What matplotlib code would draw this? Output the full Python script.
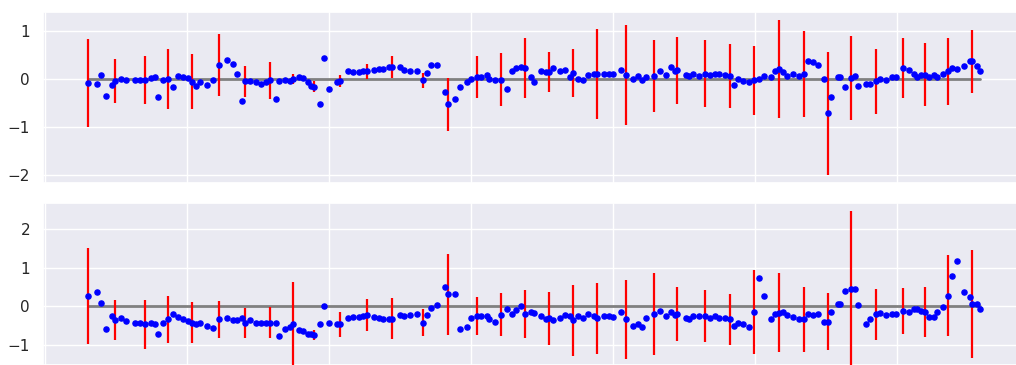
import numpy as np
import matplotlib
matplotlib.use("Agg")
import matplotlib.pyplot as plt
from matplotlib.ticker import MultipleLocator
import seaborn as sns

# Sample positions (shared by both series)
x = [
    15.1, 18.3, 19.8, 21.4, 23.6, 24.7, 26.6, 28.6, 31.6, 33.3,
    35.1, 37.2, 38.8, 39.8, 41.4, 43.3, 44.9, 46.7, 48.7, 50.3,
    51.7, 53.2, 54.4, 57.1, 59.0, 61.3, 64.0, 66.0, 67.5, 69.4,
    70.4, 72.1, 74.1, 76.0, 77.8, 79.2, 81.3, 82.4, 84.4, 86.2,
    87.4, 89.5, 90.7, 92.5, 93.6, 94.7, 96.8, 98.3, 99.8, 102.6,
    103.8, 106.6, 108.5, 110.4, 112.0, 113.2, 115.8, 117.6, 119.1, 120.9,
    122.1, 124.8, 126.4, 128.5, 130.9, 132.9, 134.4, 135.9, 137.9, 140.6,
    141.8, 144.4, 146.0, 148.4, 149.8, 152.1, 153.5, 155.5, 156.3, 158.4,
    160.4, 162.5, 164.3, 165.7, 167.6, 168.8, 171.0, 172.1, 174.4, 176.2,
    177.3, 178.7, 181.2, 183.0, 184.7, 185.9, 187.5, 189.4, 191.1, 193.2,
    194.3, 196.9, 198.4, 200.0, 202.6, 204.4, 206.8, 208.7, 210.2, 211.4,
    214.3, 216.4, 218.5, 220.2, 221.7, 222.5, 225.5, 226.7, 227.9, 230.2,
    232.2, 234.0, 235.9, 237.3, 239.4, 241.1, 242.5, 243.9, 245.7, 247.8,
    249.4, 251.3, 253.0, 255.6, 257.0, 258.2, 259.8, 261.3, 263.1, 265.4,
    267.2, 268.7, 270.3, 272.0, 274.0, 275.5, 276.7, 279.0, 279.8, 281.4,
    283.7, 285.1, 286.3, 289.0, 290.4, 292.3, 293.7, 296.0, 298.1, 299.5,
    302.0, 303.9, 305.8, 306.9, 308.3, 309.7, 311.2, 312.8, 314.0, 316.2,
    317.7, 319.1, 320.9, 323.4, 325.5, 326.2, 327.9, 329.2,
]

# First series
y_top = [
    -0.08, -0.10, 0.08, -0.35, -0.12, -0.035, 0.01, -0.01, -0.01, -0.01,
    -0.02, 0.02, 0.04, -0.375, -0.01, 0.01, -0.17, 0.06, 0.04, 0.02,
    -0.06, -0.15, -0.07, -0.12, -0.03, 0.29, 0.40, 0.32, 0.11, -0.46,
    -0.05, -0.05, -0.07, -0.10, -0.07, -0.03, -0.42, -0.05, -0.03, -0.05,
    0.0, 0.04, 0.02, -0.07, -0.14, -0.16, -0.53, 0.45, -0.21, -0.07,
    -0.04, 0.16, 0.14, 0.14, 0.16, 0.16, 0.18, 0.21, 0.20, 0.25,
    0.25, 0.25, 0.18, 0.16, 0.16, -0.03, 0.13, 0.30, 0.30, -0.26,
    -0.53, -0.42, -0.17, -0.07, 0.01, 0.04, 0.04, 0.09, 0.01, -0.03,
    -0.01, -0.21, 0.16, 0.23, 0.25, 0.23, 0.04, -0.07, 0.16, 0.14,
    0.14, 0.23, 0.16, 0.18, 0.04, 0.13, 0.01, -0.03, 0.09, 0.11,
    0.11, 0.11, 0.11, 0.11, 0.18, 0.09, 0.01, 0.07, -0.03, 0.04,
    0.07, 0.16, 0.09, 0.25, 0.16, 0.18, 0.09, 0.07, 0.11, 0.07,
    0.11, 0.09, 0.11, 0.11, 0.09, 0.07, -0.12, 0.0, -0.05, -0.07,
    -0.03, 0.0, 0.07, 0.04, 0.16, 0.21, 0.14, 0.07, 0.11, 0.07,
    0.11, 0.37, 0.35, 0.30, 0.0, -0.71, -0.37, 0.04, 0.04, -0.17,
    0.02, 0.07, -0.14, -0.10, -0.10, -0.05, 0.0, -0.03, 0.04, 0.04,
    0.23, 0.18, 0.11, 0.04, 0.09, 0.09, 0.04, 0.09, 0.04, 0.11,
    0.16, 0.23, 0.21, 0.28, 0.37, 0.37, 0.28, 0.16,
]

# Second series
y_bottom = [
    0.26, 0.37, 0.085, -0.59, -0.25, -0.36, -0.31, -0.37, -0.42, -0.42,
    -0.47, -0.42, -0.45, -0.72, -0.42, -0.34, -0.21, -0.28, -0.34, -0.37,
    -0.42, -0.45, -0.42, -0.51, -0.56, -0.34, -0.30, -0.345, -0.345, -0.29,
    -0.43, -0.36, -0.42, -0.42, -0.42, -0.42, -0.42, -0.77, -0.59, -0.53,
    -0.45, -0.62, -0.65, -0.71, -0.71, -0.74, -0.47, 0.0, -0.42, -0.47,
    -0.47, -0.31, -0.28, -0.28, -0.25, -0.22, -0.28, -0.31, -0.32, -0.32,
    -0.32, -0.22, -0.25, -0.22, -0.20, -0.42, -0.22, -0.05, 0.03, 0.51,
    0.31, 0.31, -0.59, -0.53, -0.31, -0.25, -0.25, -0.25, -0.34, -0.40,
    -0.22, -0.08, -0.20, -0.10, 0.01, -0.20, -0.14, -0.16, -0.25, -0.34,
    -0.31, -0.36, -0.31, -0.22, -0.25, -0.36, -0.25, -0.31, -0.20, -0.25,
    -0.31, -0.25, -0.25, -0.28, -0.14, -0.34, -0.51, -0.45, -0.53, -0.31,
    -0.20, -0.11, -0.25, -0.14, -0.22, -0.20, -0.30, -0.34, -0.25, -0.25,
    -0.25, -0.31, -0.25, -0.31, -0.31, -0.34, -0.51, -0.42, -0.45, -0.53,
    -0.14, 0.74, 0.28, -0.34, -0.20, -0.16, -0.14, -0.22, -0.28, -0.34,
    -0.34, -0.20, -0.22, -0.20, -0.40, -0.40, -0.14, 0.06, 0.06, 0.40,
    0.46, 0.46, 0.03, -0.45, -0.34, -0.20, -0.16, -0.22, -0.20, -0.20,
    -0.11, -0.14, -0.08, -0.08, -0.11, -0.14, -0.28, -0.28, -0.14, -0.03,
    0.28, 0.79, 1.17, 0.37, 0.23, 0.06, 0.06, -0.08,
]

# Uncertainty reported on every fifth sample
err_step = 5
err_top = [
    0.92, 0.46, 0.51, 0.625, 0.575, 0.65, 0.325, 0.39, 0.11, 0.12,
    0.125, 0.16, 0.23, 0.16, 0.56, 0.44, 0.545, 0.625, 0.415, 0.505,
    0.94, 1.04, 0.755, 0.695, 0.70, 0.665, 0.72, 1.025, 0.895, 1.285,
    0.885, 0.675, 0.635, 0.66, 0.695, 0.655,
]
err_bottom = [
    1.24, 0.515, 0.645, 0.60, 0.53, 0.49, 0.39, 0.40, 1.07, 0.13,
    0.32, 0.42, 0.53, 0.36, 1.05, 0.485, 0.56, 0.62, 0.69, 0.925,
    0.925, 1.015, 1.07, 0.69, 0.675, 0.65, 1.085, 1.025, 0.84, 0.74,
    2.0, 0.66, 0.595, 0.645, 1.05, 1.395,
]

sns.set_theme(style="darkgrid")

fig = plt.figure(figsize=(10.16, 3.65), dpi=100)
W, H = 1016.0, 365.0
left = 43.3 / W
width = (1025.0 - 43.3) / W
ax_top = fig.add_axes([left, (H - 183.0) / H, width, 171.0 / H])
ax_bot = fig.add_axes([left, 0.0, width, (H - 203.3) / H])

xs = np.asarray(x)


def draw(ax, y, err):
    y = np.asarray(y)
    ax.plot(xs, np.zeros_like(xs), color="gray", lw=2, zorder=2)
    ax.errorbar(xs[::err_step], y[::err_step], yerr=err, fmt="none",
                ecolor="red", elinewidth=1.6, capsize=0, zorder=3)
    ax.plot(xs, y, "o", color="blue", ms=3.7, zorder=4)
    ax.xaxis.set_major_locator(MultipleLocator(50))
    ax.tick_params(axis="x", labelbottom=False)
    ax.tick_params(axis="y", labelsize=11)
    ax.set_xlim(-0.6, 344.9)


draw(ax_top, y_top, err_top)
draw(ax_bot, y_bottom, err_bottom)

ax_top.set_ylim(-2.17, 1.40)
ax_top.set_yticks([-2, -1, 0, 1])
ax_bot.set_ylim(-1.52, 2.67)
ax_bot.set_yticks([-1, 0, 1, 2])

fig.savefig("out.png", dpi=100)
